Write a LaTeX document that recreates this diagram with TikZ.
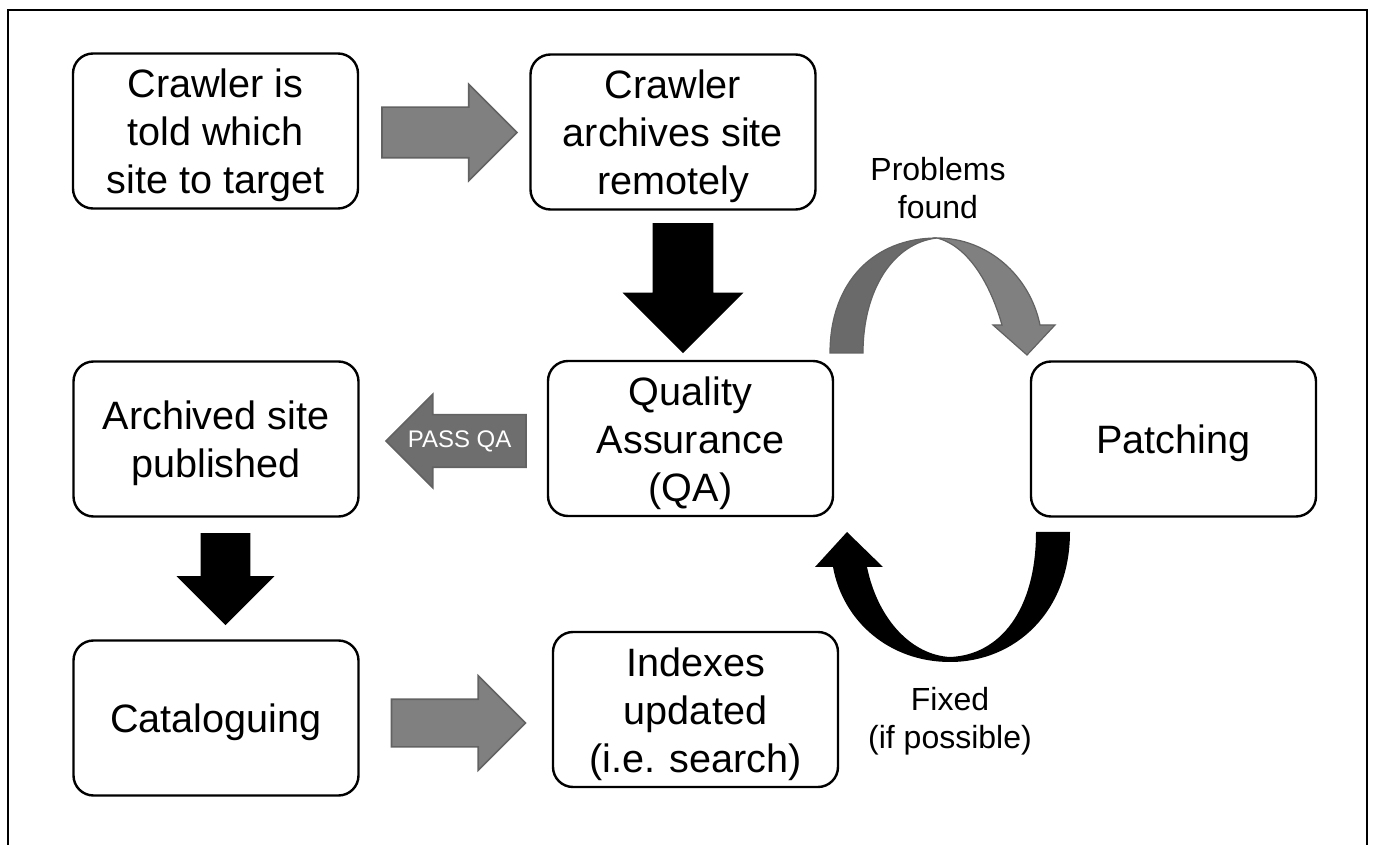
\documentclass[tikz,border=0pt]{standalone}
\usepackage{fontspec}
\setmainfont{Liberation Sans}
\usetikzlibrary{positioning,shapes.arrows}
\definecolor{arrowgray}{RGB}{128,128,128}
\definecolor{arrowedge}{RGB}{98,98,98}
\definecolor{backgray}{RGB}{106,106,106}
\definecolor{passgray}{RGB}{110,110,110}
\newcommand{\topgap}{\rule{0pt}{19pt}}
\tikzset{
  stage/.style={draw,line width=1.2pt,rounded corners=10pt,minimum width=142.5pt,minimum height=77.5pt,align=center,inner sep=0pt,font=\fontsize{19.8}{24}\selectfont},
  grayarrow/.style={single arrow,draw=arrowedge,fill=arrowgray,line width=0.8pt},
  blackarrow/.style={single arrow,fill=black,shape border rotate=270},
  note/.style={align=center,inner sep=0pt,font=\fontsize{16}{19}\selectfont}
}
\begin{document}
\begin{tikzpicture}[x=0.5pt,y=-0.5pt]
\useasboundingbox (0,0) rectangle (1373,845);
\draw[line width=1pt] (8,845) -- (8,10) -- (1367,10) -- (1367,845);
\node[stage] (crawl) at (215.5,131) {\topgap Crawler is\\told which\\site to target};
\node[stage] (archive) at (673,132) {\topgap Crawler\\archives site\\remotely};
\node[stage] (qa) at (690.5,438.5) {\topgap Quality\\Assurance\\(QA)};
\node[stage] (patch) at (1173.5,439) {\topgap Patching};
\node[stage] (publish) at (216,439) {\topgap Archived site\\published};
\node[stage] (catalogue) at (216,718) {\topgap Cataloguing};
\node[stage] (index) at (695.5,709.5) {\topgap Indexes\\updated\\(i.e. search)};
\node[grayarrow,inner sep=12.25pt,minimum height=67.5pt,single arrow head extend=11.5pt,right=11pt of crawl,yshift=-0.75pt] (crawlarrow) {};
\node[blackarrow,inner sep=15pt,minimum height=65pt,single arrow head extend=15pt,below=6pt of archive,xshift=5pt] (archivearrow) {};
\node[grayarrow,fill=passgray,shape border rotate=180,inner sep=12.75pt,minimum height=70pt,single arrow head extend=10.25pt,left=10pt of qa,yshift=-1.25pt] (passarrow) {};
\node[text=white,inner sep=0pt,font=\fontsize{12}{12}\selectfont,left=7.5pt of passarrow.tail] (pass) {PASS QA};
\node[blackarrow,inner sep=12.25pt,minimum height=46pt,single arrow head extend=12pt,below=7.5pt of publish,xshift=4.75pt] (publisharrow) {};
\node[grayarrow,inner sep=11.5pt,minimum height=67pt,single arrow head extend=11.75pt,right=15.5pt of catalogue,yshift=-2.5pt] (cataloguearrow) {};
\filldraw[fill=backgray,draw=arrowedge,line width=0.6pt] (830,353) .. controls (830,282) and (874,238) .. (937,238) .. controls (893,243) and (863,290) .. (863,353) -- cycle;
\filldraw[fill=arrowgray,draw=arrowedge,line width=0.6pt] (937,238) .. controls (988,238) and (1030,276) .. (1040,325) -- (1055,325) -- (1027,355) -- (993,325) -- (1002,325) .. controls (990,283) and (968,246) .. (937,238) -- cycle;
\fill (1070,532) .. controls (1070,612) and (1015,662) .. (950,662) .. controls (890,662) and (843,622) .. (833,567) -- (815,567) -- (847,532) -- (883,567) -- (867,567) .. controls (878,620) and (912,655) .. (950,657) .. controls (1000,655) and (1036,610) .. (1036,532) -- cycle;
\node[note] (problems) at (938,188) {Problems\\found};
\node[note] (fixed) at (950,721) {Fixed\\(if possible)};
\end{tikzpicture}
\end{document}
